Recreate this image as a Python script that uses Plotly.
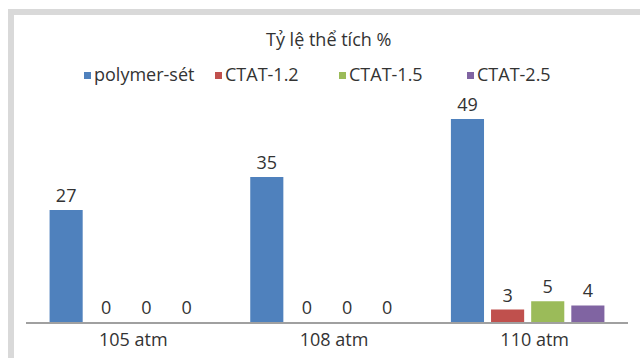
import plotly.graph_objects as go

# Categories (pressure) and series values (volume fraction, %)
categories = ["105 atm", "108 atm", "110 atm"]
series_names = ["polymer-sét", "CTAT-1.2", "CTAT-1.5", "CTAT-2.5"]
polymer_set = [27, 35, 49]
ctat_12 = [0, 0, 3]
ctat_15 = [0, 0, 5]
ctat_25 = [0, 0, 4]
series_values = [polymer_set, ctat_12, ctat_15, ctat_25]
series_colors = ["#4f81bd", "#c0504d", "#9bbb59", "#8064a2"]

W, H = 640, 358
FONT = "Open Sans"
TEXT_COLOR = "#333333"

fig = go.Figure()
for name, vals, col in zip(series_names, series_values, series_colors):
    fig.add_trace(go.Bar(
        x=categories, y=vals, name=name,
        marker=dict(color=col, line=dict(width=0)),
        text=[str(v) for v in vals],
        textposition="outside",
        textfont=dict(family=FONT, size=18, color=TEXT_COLOR),
        cliponaxis=False,
        showlegend=False,
    ))

# helpers to place decorations in pixel terms on the paper
def px(x):
    return x / W

def py(y):
    return 1 - y / H

shapes = [
    # light grey frame on the top and left edges
    dict(type="rect", xref="paper", yref="paper", x0=px(8), x1=px(W + 5),
         y0=py(15), y1=py(9), fillcolor="#d9d9d9", line=dict(width=0), layer="below"),
    dict(type="rect", xref="paper", yref="paper", x0=px(8), x1=px(14),
         y0=py(H + 5), y1=py(9), fillcolor="#d9d9d9", line=dict(width=0), layer="below"),
]
annotations = [
    dict(text="Tỷ lệ thể tích %", xref="paper", yref="paper", x=px(328), y=py(39),
         xanchor="center", yanchor="middle", showarrow=False,
         font=dict(family=FONT, size=18, color=TEXT_COLOR)),
]

# legend: small coloured squares followed by series names
legend_x = [84, 215, 339, 467]
for lx, name, col in zip(legend_x, series_names, series_colors):
    shapes.append(dict(type="rect", xref="paper", yref="paper",
                       x0=px(lx), x1=px(lx + 7), y0=py(79), y1=py(72),
                       fillcolor=col, line=dict(width=0)))
    annotations.append(dict(text=name, xref="paper", yref="paper",
                            x=px(lx + 8), y=py(74), xanchor="left", yanchor="middle",
                            showarrow=False,
                            font=dict(family=FONT, size=18, color=TEXT_COLOR)))

base_y, top_y = 322, 100
unit_px = 4.145
fig.update_layout(
    width=W, height=H,
    margin=dict(l=0, r=0, t=0, b=0),
    paper_bgcolor="white", plot_bgcolor="white",
    barmode="group", bargap=0.2, bargroupgap=0.175,
    showlegend=False,
    shapes=shapes, annotations=annotations,
    xaxis=dict(domain=[26 / W, 628 / W], showline=True, linecolor="#a0a0a0",
               linewidth=2, ticks="", showgrid=False, ticklabelshift=7,
               tickfont=dict(family=FONT, size=18, color=TEXT_COLOR)),
    yaxis=dict(domain=[1 - base_y / H, 1 - top_y / H],
               range=[0, (base_y - top_y) / unit_px],
               visible=False, showgrid=False, zeroline=False),
    uniformtext=dict(mode=False),
)

fig.write_html("out.html")
